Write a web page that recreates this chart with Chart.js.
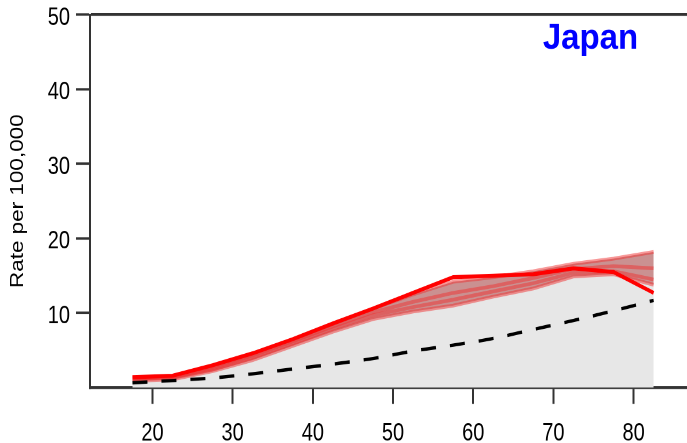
<!DOCTYPE html>
<html><head><meta charset="utf-8">
<script src="https://cdn.jsdelivr.net/npm/chart.js@4/dist/chart.umd.min.js"></script>
<style>
html,body{margin:0;padding:0;background:#fff;overflow:hidden;width:687px;height:443px;}
#wrap{position:absolute;left:0;top:0;width:687px;height:355px;transform:scaleY(1.24789);transform-origin:0 0;}
</style></head><body>
<div id="wrap"><canvas id="c" width="687" height="355"></canvas></div>
<script>
const countryName = 'Japan';
const yTitle = 'Rate per 100,000';
const ages = [17.5,22.5,27.5,32.5,37.5,42.5,47.5,52.5,57.5,62.5,67.5,72.5,77.5,82.5];
const mainRate = [1.4,1.6,3.0,4.6,6.5,8.6,10.6,12.7,14.8,15.0,15.2,16.0,15.5,12.7];
const bandUpper = [1.3,1.5,2.8,4.5,6.4,8.5,10.6,12.5,14.2,14.8,15.6,16.6,17.3,18.2];
const bandMid1 = [1.2,1.4,2.6,4.3,6.2,8.2,10.1,11.5,12.7,13.6,14.7,15.9,16.3,16.0];
const bandMid2 = [1.1,1.3,2.4,4.0,5.9,7.9,9.7,10.8,11.8,12.9,14.0,15.4,15.6,14.5];
const bandLower = [0.9,1.1,2.2,3.7,5.6,7.5,9.2,10.2,11.0,12.2,13.3,14.9,15.2,13.8];
const referenceRate = [0.65,0.95,1.3,1.85,2.5,3.15,3.9,4.9,5.7,6.6,7.8,9.0,10.3,11.7];
const xTicks = [20,30,40,50,60,70,80];
const yTicks = [10,20,30,40,50];

const pts = arr => ages.map((a,i)=>({x:a,y:arr[i]}));
const FONT = '"Liberation Sans", Arial, Helvetica, sans-serif';
Chart.defaults.font.family = FONT;
const pink = 'rgba(240,50,50,0.5)';

const titlePlugin = {
  id:'countryTitle',
  afterDraw(chart){
    const ctx = chart.ctx, ca = chart.chartArea;
    ctx.save();
    ctx.translate(ca.right - 96.5, ca.top + 27);
    ctx.scale(1, 0.88);
    ctx.font = 'bold 33px ' + FONT;
    ctx.fillStyle = '#0000ff';
    ctx.textAlign = 'center';
    ctx.textBaseline = 'alphabetic';
    ctx.fillText(countryName, 0, 0);
    ctx.restore();
  }
};

new Chart(document.getElementById('c'), {
  type:'line',
  data:{datasets:[
    {data:pts(bandLower), borderWidth:0, borderColor:'rgba(0,0,0,0)', backgroundColor:'#e7e7e7', fill:'origin', order:10, pointRadius:0},
    {data:pts(bandUpper), borderWidth:3, borderColor:pink, backgroundColor:'rgba(150,35,35,0.5)', fill:{target:0}, order:9, pointRadius:0},
    {data:pts(bandMid1), borderWidth:3, borderColor:pink, fill:false, order:8, pointRadius:0},
    {data:pts(bandMid2), borderWidth:3, borderColor:pink, fill:false, order:7, pointRadius:0},
    {data:pts(bandLower), borderWidth:3, borderColor:pink, fill:false, order:6, pointRadius:0},
    {data:pts(referenceRate), borderWidth:2.7, borderColor:'#000', borderDash:[15,14], fill:false, order:2, pointRadius:0, cubicInterpolationMode:'monotone'},
    {data:pts(mainRate), borderWidth:3.2, borderColor:'#ff0000', fill:false, order:1, pointRadius:0}
  ]},
  options:{
    responsive:false,
    devicePixelRatio:2,
    animation:false,
    layout:{padding:{top:11.8,left:0,right:0,bottom:0}},
    plugins:{legend:{display:false}, tooltip:{enabled:false}, title:{display:false}},
    scales:{
      x:{type:'linear', min:12.205, max:86.66,
        afterBuildTicks:s=>{s.ticks = xTicks.map(v=>({value:v}));},
        afterFit:s=>{s.height = 44.4; s.paddingLeft = 0; s.paddingRight = 0;},
        ticks:{color:'#000', font:{size:20}, padding:12, maxRotation:0, autoSkip:false},
        grid:{drawOnChartArea:false, drawTicks:true, tickLength:13, tickColor:'#333', tickWidth:2, color:'#333'},
        border:{display:true, color:'#333', width:2.2}
      },
      y:{type:'linear', min:0, max:50,
        afterBuildTicks:s=>{s.ticks = yTicks.map(v=>({value:v}));},
        afterFit:s=>{s.width = 90; s.paddingTop = 0; s.paddingBottom = 0;},
        ticks:{color:'#000', font:{size:20}, padding:6, labelOffset:2.5},
        grid:{drawOnChartArea:true, drawTicks:true, tickLength:14, tickColor:'#333', tickWidth:1.9,
          color:c=> (c.tick && c.tick.value===50) ? '#333' : 'rgba(0,0,0,0)', lineWidth:2.2},
        border:{display:true, color:'#333', width:2},
        title:{display:true, text:yTitle, color:'#000', font:{size:18}, padding:{top:7,bottom:0}}
      }
    }
  },
  plugins:[titlePlugin]
});
</script>
</body></html>
